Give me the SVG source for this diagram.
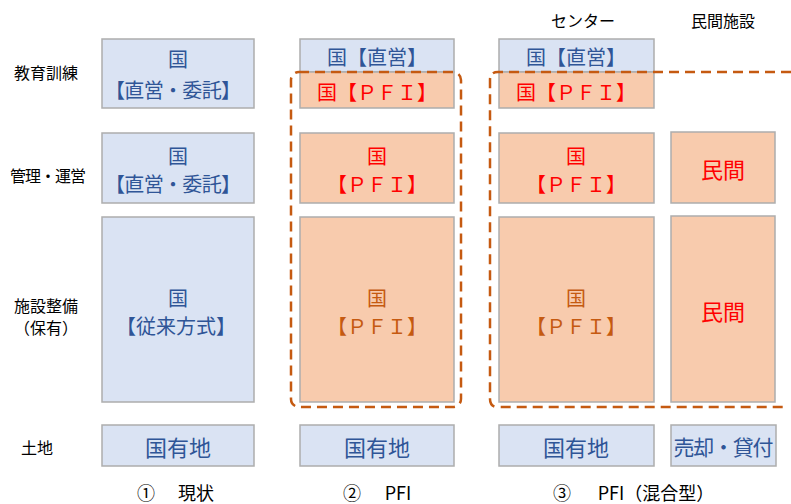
<svg xmlns="http://www.w3.org/2000/svg" width="791" height="504" viewBox="0 0 791 504">
<style>
text{font-family:"Noto Sans CJK JP","Noto Sans CJK SC",sans-serif;text-anchor:middle;dominant-baseline:central}
.lab{font-size:16px;fill:#000}
.bt{font-size:18px;fill:#000}
.blue{fill:#DAE3F3;stroke:#ADADAD;stroke-width:1.5}
.org{fill:#F8CBAD;stroke:#ADADAD;stroke-width:1.5}
.tb{font-size:20px;fill:#2F5597}
.tr{font-size:20px;fill:#FF0000}
.to{font-size:20px;fill:#C55A11}
.big{font-size:22px}
.dash{fill:none;stroke:#C55A11;stroke-width:2.5;stroke-dasharray:10 6}
</style>
<g id="labels">
<text class="lab" x="48" y="175" textLength="76" lengthAdjust="spacing">管理・運営</text>
<text class="lab" x="46" y="72">教育訓練</text>
<text class="lab" x="46" y="305">施設整備</text>
<text class="lab" x="46" y="327">（保有）</text>
<text class="lab" x="37" y="447">土地</text>
<text class="lab" x="583" y="20">センター</text>
<text class="lab" x="723" y="20">民間施設</text>
<text class="bt" x="146" y="492">①</text>
<text class="bt" x="196" y="492">現状</text>
<text class="bt" x="352" y="492">②</text>
<text class="bt" x="398" y="492">PFI</text>
<text class="bt" x="562" y="492">③</text>
<text class="bt" x="656" y="492">PFI（混合型）</text>
</g>
<g id="col1">
<g id="c1r1"><rect class="blue" x="102" y="39" width="152" height="69"/><text class="tb" x="178" y="58">国</text><text class="tb" x="173" y="89" textLength="136" lengthAdjust="spacing">【直営・委託】</text></g>
<g id="c1r2"><rect class="blue" x="102" y="133" width="152" height="70"/><text class="tb" x="178" y="155">国</text><text class="tb" x="173" y="183" textLength="136" lengthAdjust="spacing">【直営・委託】</text></g>
<g id="c1r3"><rect class="blue" x="102" y="217" width="152" height="185"/><text class="tb" x="178" y="297">国</text><text class="tb" x="176" y="325">【従来方式】</text></g>
<g id="c1r4"><rect class="blue" x="102" y="425" width="152" height="41"/><text class="tb big" x="178" y="446">国有地</text></g>
</g>
<g id="col2">
<g id="c2r1a"><rect class="blue" x="300" y="39" width="154" height="33"/><text class="tb" x="377" y="56">国【直営】</text></g>
<g id="c2r1b"><rect class="org" x="300" y="72" width="154" height="36"/><text class="tr" x="377" y="91">国【ＰＦＩ】</text></g>
<g id="c2r2"><rect class="org" x="300" y="133" width="154" height="70"/><text class="tr" x="377" y="155">国</text><text class="tr" x="377" y="183">【ＰＦＩ】</text></g>
<g id="c2r3"><rect class="org" x="300" y="217" width="154" height="185"/><text class="to" x="377" y="297">国</text><text class="to" x="377" y="325">【ＰＦＩ】</text></g>
<g id="c2r4"><rect class="blue" x="300" y="425" width="154" height="41"/><text class="tb big" x="377" y="446">国有地</text></g>
</g>
<g id="col3">
<g id="c3r1a"><rect class="blue" x="499" y="39" width="155" height="33"/><text class="tb" x="576" y="56">国【直営】</text></g>
<g id="c3r1b"><rect class="org" x="499" y="72" width="155" height="36"/><text class="tr" x="576" y="91">国【ＰＦＩ】</text></g>
<g id="c3r2"><rect class="org" x="499" y="133" width="155" height="70"/><text class="tr" x="576" y="155">国</text><text class="tr" x="576" y="183">【ＰＦＩ】</text></g>
<g id="c3r3"><rect class="org" x="499" y="217" width="155" height="185"/><text class="to" x="576" y="297">国</text><text class="to" x="576" y="325">【ＰＦＩ】</text></g>
<g id="c3r4"><rect class="blue" x="499" y="425" width="155" height="41"/><text class="tb big" x="576" y="446">国有地</text></g>
</g>
<g id="col4">
<g id="c4r2"><rect class="org" x="671" y="132" width="104" height="71"/><text class="tr big" x="723" y="168">民間</text></g>
<g id="c4r3"><rect class="org" x="671" y="216" width="104" height="186"/><text class="tr big" x="723" y="310">民間</text></g>
<g id="c4r4"><rect class="blue" x="671" y="425" width="105" height="41"/><text class="tb" style="font-size:21px" x="723.5" y="446" textLength="100" lengthAdjust="spacing">売却・貸付</text></g>
</g>
<g id="connectors">
<rect class="dash" x="291" y="72" width="170" height="335" rx="8"/>
<path class="dash" d="M791,72 H498 Q490,72 490,80 V399 Q490,407 498,407 H785"/>
</g>
</svg>
